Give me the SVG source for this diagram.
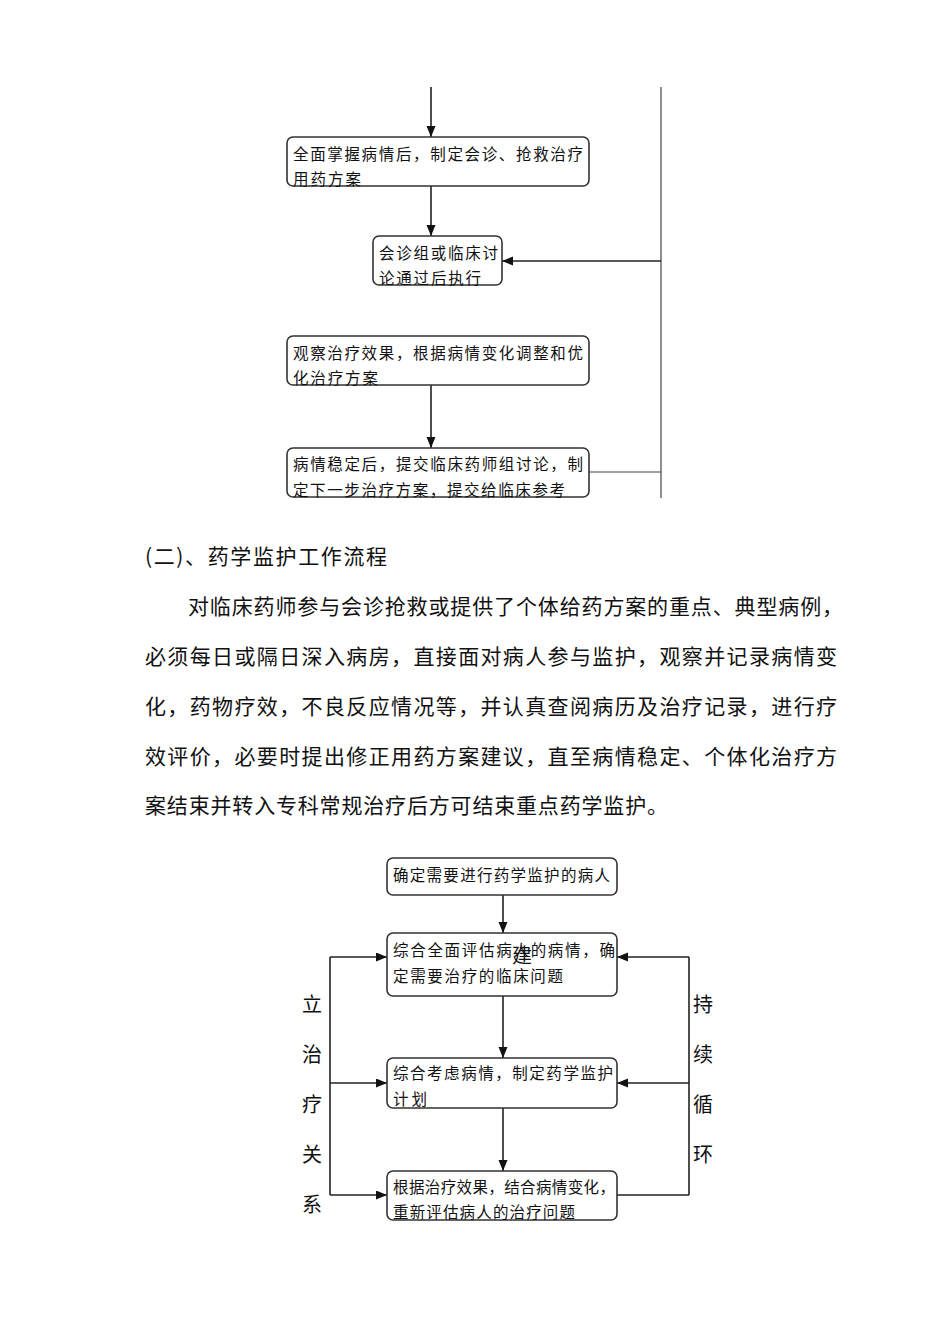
<svg xmlns="http://www.w3.org/2000/svg" width="950" height="1344" viewBox="0 0 950 1344">
<style>
text{font-family:"Noto Sans CJK SC","Noto Sans CJK JP",sans-serif;fill:#111;}
.bx{font-size:15.5px;}
.body{font-size:21px;}
.lab{font-size:20px;}
rect{fill:#fff;stroke:#333;stroke-width:1.6;}
.c{fill:none;stroke:#222;stroke-width:1.6;}
.t{fill:none;stroke:#444;stroke-width:1.2;}
</style>
<defs>
<marker id="ah" markerUnits="userSpaceOnUse" markerWidth="12" markerHeight="10" refX="11" refY="4.5" orient="auto">
<path d="M0,0 L11,4.5 L0,9 z" fill="#111"/>
</marker>
</defs>
<rect width="950" height="1344" style="fill:#fff;stroke:none"/>

<g id="connectors">
<line class="c" x1="431" y1="87" x2="431" y2="137" marker-end="url(#ah)"/>
<line class="c" x1="431" y1="186" x2="431" y2="236" marker-end="url(#ah)"/>
<line class="c" x1="431" y1="385" x2="431" y2="448" marker-end="url(#ah)"/>
<line class="t" x1="661" y1="87" x2="661" y2="498"/>
<polyline class="t" points="589,472 661,472"/>
<line class="c" x1="661" y1="261" x2="502" y2="261" marker-end="url(#ah)"/>

<line class="c" x1="503" y1="895" x2="503" y2="933" marker-end="url(#ah)"/>
<line class="c" x1="503" y1="996" x2="503" y2="1058" marker-end="url(#ah)"/>
<line class="c" x1="503" y1="1108" x2="503" y2="1171" marker-end="url(#ah)"/>
<line class="c" x1="330" y1="957" x2="330" y2="1195"/>
<line class="c" x1="330" y1="957" x2="387" y2="957" marker-end="url(#ah)"/>
<line class="c" x1="330" y1="1083" x2="387" y2="1083" marker-end="url(#ah)"/>
<line class="c" x1="330" y1="1195" x2="387" y2="1195" marker-end="url(#ah)"/>
<line class="c" x1="689" y1="957" x2="689" y2="1195"/>
<line class="c" x1="689" y1="957" x2="617" y2="957" marker-end="url(#ah)"/>
<line class="c" x1="689" y1="1083" x2="617" y2="1083" marker-end="url(#ah)"/>
<line class="c" x1="617" y1="1195" x2="689" y2="1195"/>
</g>

<g id="n1">
<rect x="287" y="137" width="302" height="49" rx="6"/>
<text class="bx" x="293" y="160" textLength="290" lengthAdjust="spacing">全面掌握病情后，制定会诊、抢救治疗</text>
<text class="bx" x="293" y="185" textLength="68" lengthAdjust="spacing">用药方案</text>
</g>
<g id="n2">
<rect x="373" y="236" width="129" height="49" rx="6"/>
<text class="bx" x="379" y="259" textLength="119" lengthAdjust="spacing">会诊组或临床讨</text>
<text class="bx" x="379" y="284" textLength="102" lengthAdjust="spacing">论通过后执行</text>
</g>
<g id="n3">
<rect x="287" y="336" width="302" height="49" rx="6"/>
<text class="bx" x="293" y="359" textLength="290" lengthAdjust="spacing">观察治疗效果，根据病情变化调整和优</text>
<text class="bx" x="293" y="384" textLength="85" lengthAdjust="spacing">化治疗方案</text>
</g>
<g id="n4">
<rect x="287" y="448" width="302" height="49" rx="6"/>
<text class="bx" x="293" y="470" textLength="290" lengthAdjust="spacing">病情稳定后，提交临床药师组讨论，制</text>
<text class="bx" x="293" y="496" textLength="272" lengthAdjust="spacing">定下一步治疗方案，提交给临床参考</text>
</g>

<g id="prose">
<text class="body" x="145" y="564" textLength="242" lengthAdjust="spacing">(二)、药学监护工作流程</text>
<text class="body" x="188" y="614" textLength="655" lengthAdjust="spacing">对临床药师参与会诊抢救或提供了个体给药方案的重点、典型病例，</text>
<text class="body" x="145" y="664" textLength="692" lengthAdjust="spacing">必须每日或隔日深入病房，直接面对病人参与监护，观察并记录病情变</text>
<text class="body" x="145" y="714" textLength="692" lengthAdjust="spacing">化，药物疗效，不良反应情况等，并认真查阅病历及治疗记录，进行疗</text>
<text class="body" x="145" y="764" textLength="692" lengthAdjust="spacing">效评价，必要时提出修正用药方案建议，直至病情稳定、个体化治疗方</text>
<text class="body" x="145" y="813" textLength="523" lengthAdjust="spacing">案结束并转入专科常规治疗后方可结束重点药学监护。</text>
</g>

<g id="m1">
<rect x="387" y="858" width="230" height="37" rx="6"/>
<text class="bx" x="393" y="881" textLength="217" lengthAdjust="spacing">确定需要进行药学监护的病人</text>
</g>
<g id="m2">
<rect x="387" y="933" width="230" height="63" rx="6"/>
<text class="bx" x="393" y="956" textLength="222" lengthAdjust="spacing">综合全面评估病人的病情，确</text>
<text class="bx" x="393" y="982" textLength="170" lengthAdjust="spacing">定需要治疗的临床问题</text>
</g>
<g id="m3">
<rect x="387" y="1058" width="230" height="50" rx="6"/>
<text class="bx" x="393" y="1079" textLength="220" lengthAdjust="spacing">综合考虑病情，制定药学监护</text>
<text class="bx" x="393" y="1105" textLength="34" lengthAdjust="spacing">计划</text>
</g>
<g id="m4">
<rect x="387" y="1171" width="230" height="49" rx="6"/>
<text class="bx" x="393" y="1193" textLength="222" lengthAdjust="spacing">根据治疗效果，结合病情变化，</text>
<text class="bx" x="393" y="1218" textLength="182" lengthAdjust="spacing">重新评估病人的治疗问题</text>
</g>

<g id="labels">
<text class="lab" x="512" y="963">建</text>
<text class="lab" x="302" y="1012">立</text>
<text class="lab" x="302" y="1062">治</text>
<text class="lab" x="302" y="1112">疗</text>
<text class="lab" x="302" y="1162">关</text>
<text class="lab" x="302" y="1212">系</text>
<text class="lab" x="693" y="1012">持</text>
<text class="lab" x="693" y="1062">续</text>
<text class="lab" x="693" y="1112">循</text>
<text class="lab" x="693" y="1162">环</text>
</g>
</svg>
